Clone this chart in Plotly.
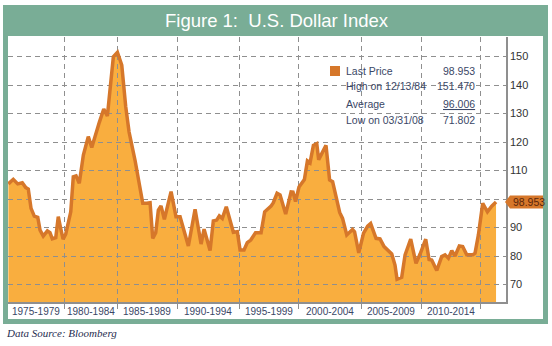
import plotly.graph_objects as go

# ---- data ----
years = [1975.86, 1976.27, 1976.64, 1977.02, 1977.31, 1977.52, 1977.75, 1978.02, 1978.31, 1978.50,
         1978.77, 1979.11, 1979.33, 1979.52, 1979.81, 1980.02, 1980.22, 1980.42, 1980.64, 1981.06,
         1981.27, 1981.50, 1981.77, 1982.11, 1982.52, 1982.81, 1983.44, 1983.81, 1984.11, 1984.42,
         1984.61, 1984.95, 1985.31, 1985.64, 1985.92, 1986.42, 1987.06, 1987.39, 1987.67, 1987.89,
         1988.14, 1988.36, 1988.58, 1988.86, 1989.42, 1989.83, 1990.17, 1990.86, 1991.42, 1991.92,
         1992.17, 1992.67, 1992.94, 1993.22, 1993.44, 1993.69, 1994.02, 1994.61, 1994.94, 1995.17,
         1995.50, 1995.77, 1996.06, 1996.46, 1996.92, 1997.22, 1997.75, 1997.94, 1998.25, 1998.50,
         1998.97, 1999.42, 1999.58, 1999.79, 2000.08, 2000.53, 2000.78, 2001.00, 2001.28, 2001.56,
         2001.72, 2002.33, 2002.63, 2002.88, 2003.47, 2003.71, 2004.06, 2004.54, 2004.71, 2005.06,
         2005.46, 2005.80, 2006.05, 2006.50, 2006.83, 2007.17, 2007.53, 2007.81, 2008.08, 2008.25,
         2008.64, 2008.92, 2009.39, 2009.83, 2010.17, 2010.64, 2010.92, 2011.14, 2011.56, 2011.97,
         2012.25, 2012.53, 2012.81, 2013.08, 2013.44, 2013.72, 2014.06, 2014.56, 2014.75, 2015.03,
         2015.39, 2015.78, 2016.14, 2016.50]
values = [105.3, 106.9, 105.3, 105.7, 104.0, 103.5, 96.7, 94.0, 93.6, 89.1,
          87.0, 88.8, 88.2, 86.0, 86.4, 93.8, 89.7, 85.9, 87.7, 95.5,
          107.8, 108.1, 105.5, 115.4, 121.9, 118.1, 126.9, 131.6, 129.1, 140.6,
          149.9, 151.47, 147.0, 132.4, 123.5, 113.5, 98.5, 98.5, 98.7, 86.2,
          88.2, 96.1, 97.6, 92.9, 102.6, 93.8, 93.8, 83.5, 96.4, 84.2,
          89.4, 81.9, 92.3, 92.6, 94.1, 93.2, 97.3, 88.3, 88.5, 82.1,
          82.1, 84.7, 85.6, 88.2, 88.2, 95.5, 97.5, 98.7, 102.0, 101.4,
          94.7, 102.5, 102.4, 99.1, 104.2, 106.8, 113.4, 112.7, 118.8, 119.4,
          113.8, 118.8, 106.7, 106.1, 95.3, 93.2, 87.4, 89.3, 88.5, 81.1,
          88.0, 90.5, 91.4, 86.2, 86.0, 83.3, 81.9, 80.7, 76.8, 71.802,
          72.5, 80.4, 85.9, 77.4, 80.7, 85.9, 78.8, 78.6, 74.9, 79.8,
          80.4, 79.2, 81.9, 80.0, 83.5, 83.3, 80.4, 80.4, 81.0, 87.4,
          98.5, 95.5, 97.5, 98.953]

period_bounds = [1980.5, 1984.92, 1989.92, 1995.08, 2000.0, 2005.25, 2010.25, 2015.17]
period_labels = ["1975-1979", "1980-1984", "1985-1989", "1990-1994",
                 "1995-1999", "2000-2004", "2005-2009", "2010-2014"]
y_ticks = [70, 80, 90, 100, 110, 120, 130, 140, 150]
y_tick_text = ["70", "80", "90", "", "110", "120", "130", "140", "150"]

last_price = 98.953
stat_labels = ["Last Price", "High on 12/13/84", "Average", "Low on 03/31/08"]
stat_values = ["98.953", "151.470", "<u>96.006</u>", "71.802"]

title_text = "Figure 1:\u00a0 U.S. Dollar Index"
source_text = "Data Source: Bloomberg"

# ---- styling ----
W, H = 552, 346
ML, MR, MT, MB = 8, 46, 37, 44
PW, PH = W - ML - MR, H - MT - MB
X_RANGE = [1975.83, 2017.33]
Y_RANGE = [63.86, 156.84]

GREEN = "#79AD96"
FILL = "#F9AE3F"
LINE = "#D6772A"
GRID = "#8f8f8f"
TXT = "#3a4766"
SANS = "Liberation Sans, Arial, sans-serif"


def nfont(size, color):
    return dict(family=SANS, size=size, color=color)


def px(x):
    return (x - ML) / PW


def py(y):
    return (H - MB - y) / PH


fig = go.Figure()
# fill in the lower subplot, line in the upper one so that the grid sits between
fig.add_trace(go.Scatter(x=years, y=values, mode="lines", fill="tozeroy",
                         fillcolor=FILL, line=dict(width=0, color=FILL),
                         xaxis="x", yaxis="y", hoverinfo="skip", showlegend=False))
fig.add_trace(go.Scatter(x=years, y=values, mode="lines",
                         line=dict(width=3.5, color=LINE),
                         xaxis="x2", yaxis="y2", showlegend=False))

grid_common = dict(showgrid=True, gridcolor=GRID, gridwidth=1, griddash="5px,4px",
                   zeroline=False, showline=True, linecolor=GRID, linewidth=1.5)

fig.update_layout(
    width=W, height=H, autosize=False,
    margin=dict(l=ML, r=MR, t=MT, b=MB, pad=0),
    paper_bgcolor="white", plot_bgcolor="rgba(0,0,0,0)",
    xaxis=dict(domain=[0, 1], range=X_RANGE, visible=False, anchor="y", fixedrange=True),
    yaxis=dict(domain=[0, 1], range=Y_RANGE, visible=False, anchor="x", fixedrange=True),
    xaxis2=dict(domain=[0, 1], range=X_RANGE, anchor="y2", tickvals=period_bounds,
                showticklabels=False, ticks="outside", ticklen=5, tickcolor=GRID,
                tickwidth=1.2, **grid_common),
    yaxis2=dict(domain=[0, 1], range=Y_RANGE, anchor="x2", side="right",
                tickvals=y_ticks, ticktext=y_tick_text, ticks="",
                tickfont=nfont(11, "#333333"),
                **grid_common),
    showlegend=False,
)

shapes = []
# green frame + title bar
frame = [(3, 5, 548, 36), (3, 36, 8, 324), (543, 36, 548, 324), (3, 319, 548, 324)]
for x0, y0, x1, y1 in frame:
    shapes.append(dict(type="rect", xref="paper", yref="paper",
                       x0=px(x0), x1=px(x1), y0=py(y1), y1=py(y0),
                       fillcolor=GREEN, line=dict(width=0), layer="above"))
# last-price tag (arrow pointing at the axis)
hh = 6.5 * (Y_RANGE[1] - Y_RANGE[0]) / PH
tip, body, end = px(505), px(510), px(543)
shapes.append(dict(type="path", xref="paper", yref="y2",
                   path=(f"M {tip},{last_price} L {body},{last_price + hh} L {end},{last_price + hh} "
                         f"L {end},{last_price - hh} L {body},{last_price - hh} Z"),
                   fillcolor=LINE, line=dict(width=0), layer="above"))
# legend swatch
shapes.append(dict(type="rect", xref="paper", yref="paper",
                   x0=px(330), x1=px(340), y0=py(76), y1=py(66),
                   fillcolor=LINE, line=dict(width=0)))
fig.update_layout(shapes=shapes)

ann = []
ann.append(dict(text=title_text, xref="paper", yref="paper", x=px(277), y=py(20.5),
                xanchor="center", yanchor="middle", showarrow=False,
                font=dict(family=SANS, size=18.5, color="white")))
ann.append(dict(text=f"{last_price:.3f}", xref="paper", yref="y2", x=px(511), y=last_price,
                xanchor="left", yanchor="middle", showarrow=False,
                font=nfont(10.5, "#5a260a")))
row_y = [71, 86.5, 103.5, 120]
for lbl, val, yy in zip(stat_labels, stat_values, row_y):
    ann.append(dict(text=lbl, xref="paper", yref="paper", x=px(344), y=py(yy),
                    xanchor="left", yanchor="middle", showarrow=False,
                    font=nfont(10.5, TXT)))
    ann.append(dict(text=val, xref="paper", yref="paper", x=px(477), y=py(yy),
                    xanchor="right", yanchor="middle", showarrow=False,
                    font=nfont(10.5, TXT)))
# period labels centred between the period boundaries
edges = [X_RANGE[0]] + period_bounds
for i, lbl in enumerate(period_labels):
    xm = (edges[i] + edges[i + 1]) / 2
    ann.append(dict(text=lbl, xref="x2", yref="paper", x=xm, y=0, yshift=-2,
                    xanchor="center", yanchor="top", showarrow=False,
                    font=nfont(10, TXT)))
ann.append(dict(text=f"<i>{source_text}</i>", xref="paper", yref="paper", x=px(4), y=py(333),
                xanchor="left", yanchor="middle", showarrow=False,
                font=dict(family="Liberation Serif, Times New Roman, serif", size=11,
                          color="#1f2d4f")))
fig.update_layout(annotations=ann)

fig.write_html("out.html")
